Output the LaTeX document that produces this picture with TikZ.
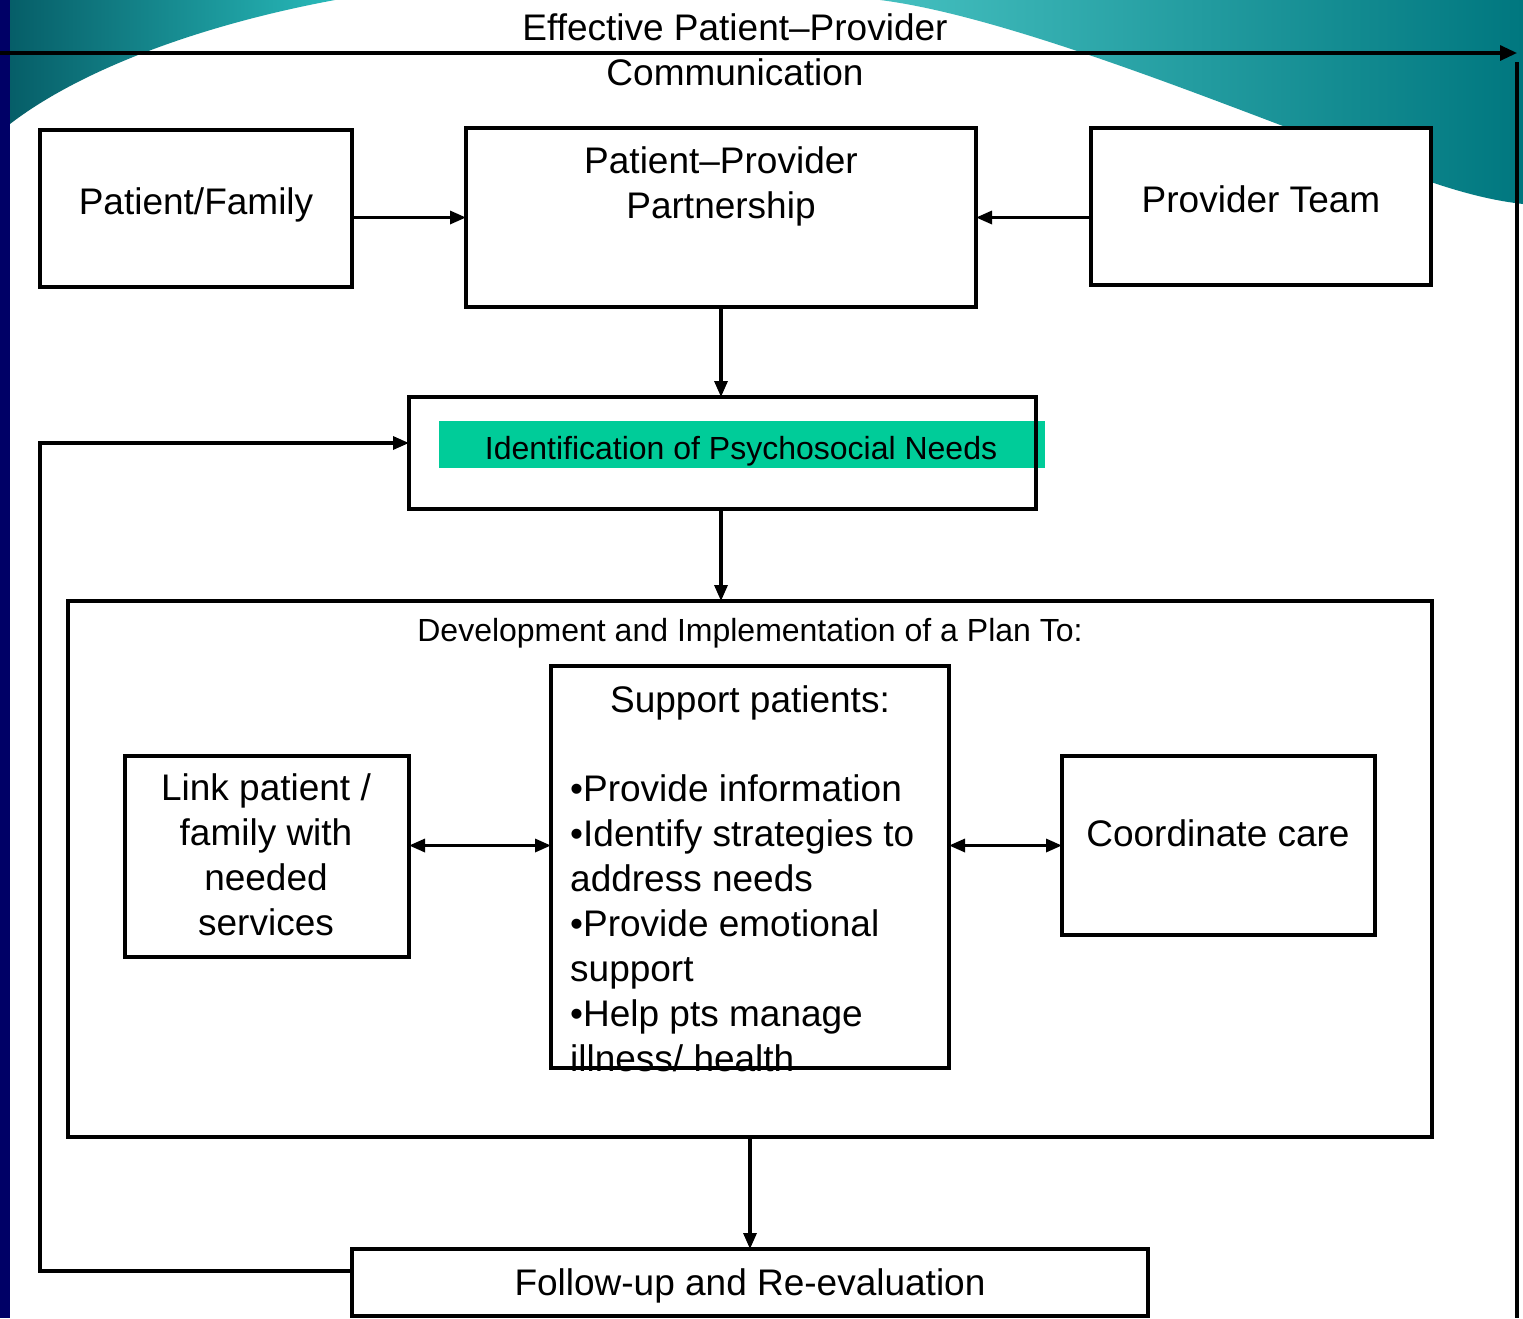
\documentclass[tikz,border=0pt]{standalone}
\usepackage{fontspec}
\setmainfont{Liberation Sans}
\usetikzlibrary{arrows.meta}
\definecolor{navybar}{HTML}{000066}
\definecolor{tealdeep}{HTML}{065E68}
\definecolor{tealedge}{HTML}{28B9B9}
\definecolor{tealmid}{HTML}{00A8A8}
\definecolor{teallite}{HTML}{45C0C0}
\definecolor{tealright}{HTML}{00777F}
\definecolor{idgreen}{HTML}{00CC99}
\begin{document}
\begin{tikzpicture}[x=1pt,y=-1pt,
  box/.style={draw, line width=3.2pt, fill=white, inner sep=0pt, outer sep=0pt},
  conn/.style={line width=3.2pt, -{Triangle[length=16pt,width=13pt]}},
  dconn/.style={line width=3.2pt, {Triangle[length=16pt,width=13pt]}-{Triangle[length=16pt,width=13pt]}},
  plainline/.style={line width=3.2pt},
  bigtxt/.style={font=\fontsize{37}{45}\selectfont, align=center, inner sep=0pt},
  smalltxt/.style={font=\fontsize{32}{38}\selectfont, inner sep=0pt}]

\useasboundingbox (0,0) rectangle (1523,1318);
\fill[white] (0,0) rectangle (1523,1318);

% background waves
\shade[left color=tealdeep, right color=tealedge] (10,0) -- (335,0) .. controls (200,25) and (80,70) .. (10,124) -- cycle;
\shade[left color=teallite, middle color=tealmid, right color=tealright]
  (880,0) .. controls (1000,15) and (1200,95) .. (1320,140) .. controls (1420,180) and (1470,198) .. (1523,204) -- (1523,0) -- cycle;
\fill[navybar] (0,0) rectangle (10,1318);

% top communication arrow
\coordinate (tl) at (0,53);
\coordinate (tr) at (1517,53);
\draw[line width=3.2pt, -{Triangle[length=17pt,width=15pt]}] (tl) -- (tr);
\coordinate (vt) at (1517,62);
\coordinate (vb) at (1517,1318);
\draw[plainline] (vt) -- (vb);
\node[bigtxt] (comm) at (735,50) {Effective Patient–Provider\\Communication};

% top row
\node[box, minimum width=312pt, minimum height=157pt] (pf) at (196,208.5) {};
\node[bigtxt] (pftxt) at (196,205) {Patient/Family};
\node[box, minimum width=510pt, minimum height=179pt] (ppp) at (721,217.5) {};
\node[bigtxt] (ppptxt) at (721,186) {Patient–Provider\\Partnership};
\node[box, minimum width=340pt, minimum height=157pt] (pt) at (1261,206.5) {};
\node[bigtxt] (pttxt) at (1261,199) {Provider Team};

\draw[conn] (pf.east |- ppp) -- (ppp.west);
\draw[conn] (pt.west |- ppp) -- (ppp.east);

% identification
\node[fill=idgreen, inner sep=0pt, minimum width=606pt, minimum height=47pt] (band) at (742,444.5) {};
\node[draw, line width=3.2pt, inner sep=0pt, outer sep=0pt, minimum width=627pt, minimum height=112pt] (idb) at (722.5,453) {};
\node[smalltxt] (idtxt) at (741,451) {Identification of Psychosocial Needs};

\draw[conn] (ppp.south) -- (ppp.south |- idb.north);

% plan box
\node[box, minimum width=1364pt, minimum height=536pt] (big) at (750,869) {};
\node[smalltxt] (bigtxt) at (750,633) {Development and Implementation of a Plan To:};
\draw[conn] (ppp.south |- idb.south) -- (ppp.south |- big.north);

\node[box, minimum width=398pt, minimum height=402pt] (sup) at (750,867) {};
\node[bigtxt] (suphead) at (750,703) {Support patients:};
\node[bigtxt, align=left, anchor=north west] (suplist) at (570,774)
  {•Provide information\\•Identify strategies to\\address needs\\•Provide emotional\\support\\•Help pts manage\\illness/ health};

\node[box, minimum width=284pt, minimum height=201pt] (link) at (267,856.5) {};
\node[bigtxt] (linktxt) at (266,855) {Link patient /\\family with\\needed\\services};
\node[box, minimum width=313pt, minimum height=179pt] (cc) at (1218.5,845.5) {};
\node[bigtxt] (cctxt) at (1218,833) {Coordinate care};

\draw[dconn] (link.east |- cc) -- (sup.west |- cc);
\draw[dconn] (sup.east |- cc) -- (cc.west);

% follow-up
\node[box, minimum width=796pt, minimum height=67pt] (fu) at (750,1282.5) {};
\node[bigtxt] (futxt) at (750,1286) {Follow-up and Re-evaluation};
\draw[conn] (big.south) -- (fu.north);

\coordinate (fbs) at (352,1271);
\coordinate (fb1) at (40,1271);
\coordinate (fb2) at (40,443);
\coordinate (fbt) at (409,443);
\draw[conn] (fbs) -- (fb1) -- (fb2) -- (fbt);
\end{tikzpicture}
\end{document}
